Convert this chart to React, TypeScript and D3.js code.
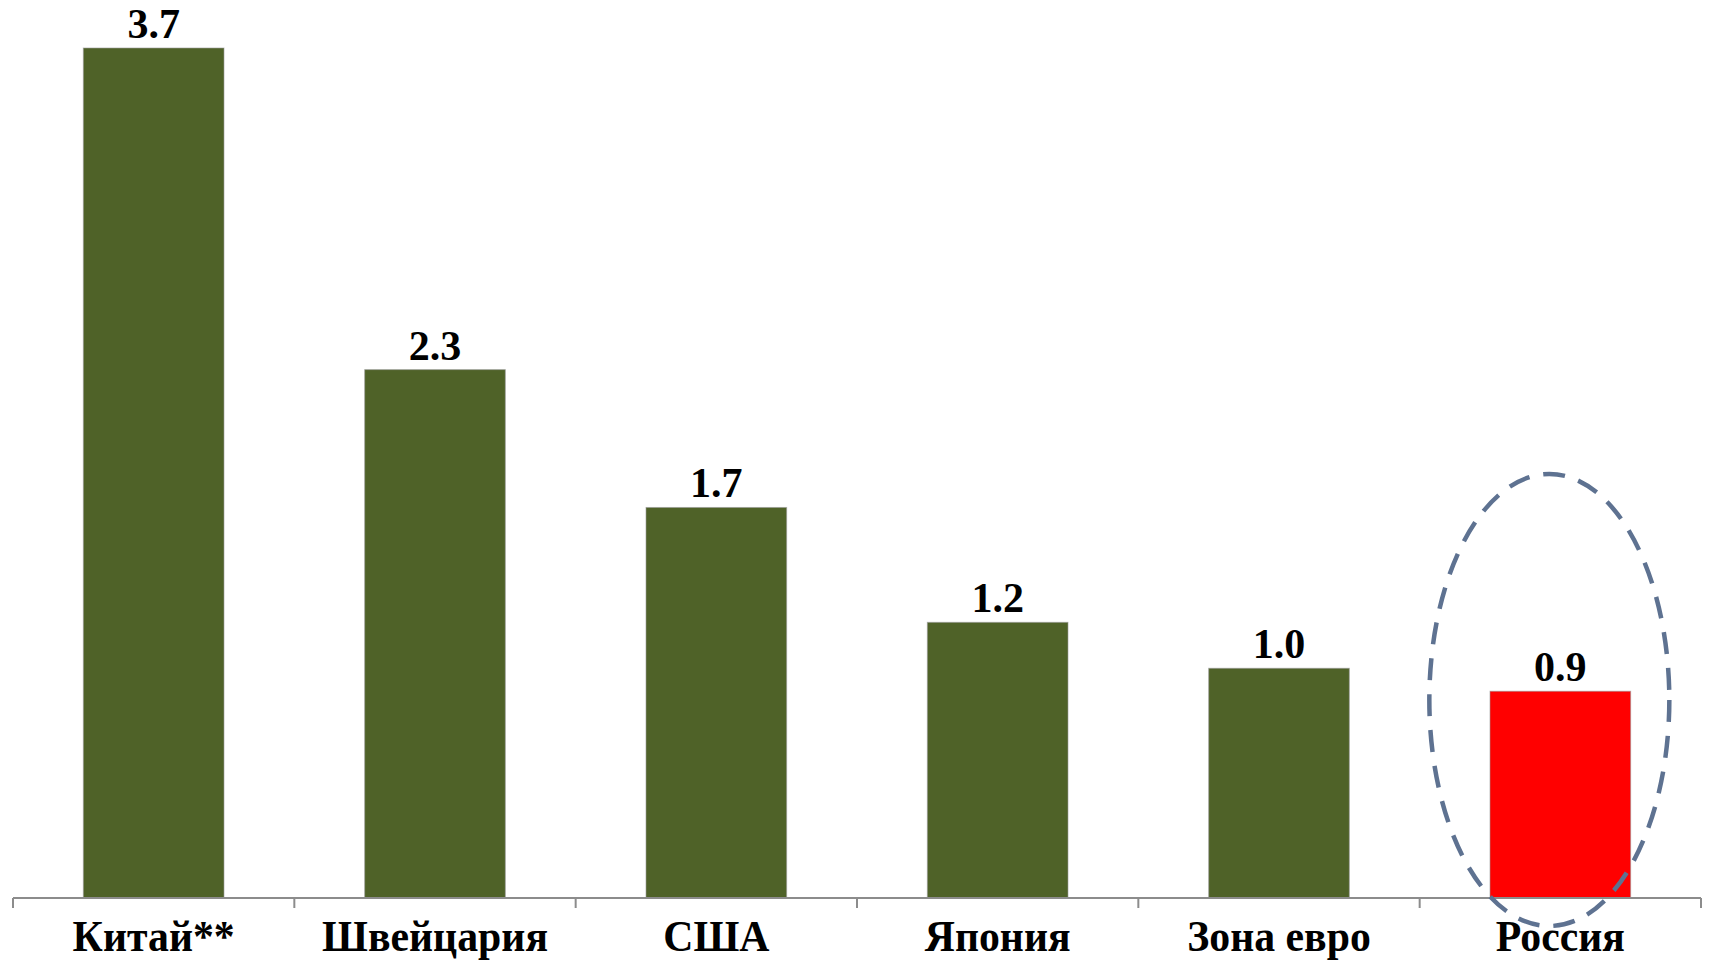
import React from "react";
import * as d3 from "d3";

const categories = ["Китай**", "Швейцария", "США", "Япония", "Зона евро", "Россия"];
const values = [3.7, 2.3, 1.7, 1.2, 1.0, 0.9];
const valueLabels = ["3.7", "2.3", "1.7", "1.2", "1.0", "0.9"];
const highlighted = "Россия";

const W = 1710;
const H = 961;
const axisY = 898;
const left = 13;
const right = 1701;

const OLIVE = "#4F6228";
const RED = "#FF0000";

export default function App() {
  const x = d3.scaleBand<string>().domain(categories).range([left, right]).paddingInner(0.5).paddingOuter(0.25);
  const y = d3.scaleLinear().domain([0, 3.7]).range([axisY, 48]);
  const step = x.step();
  const bw = x.bandwidth();
  const tickXs = d3.range(categories.length + 1).map((i) => left + i * step);

  // dashed ring drawn around the highlighted bar, sitting a little left of its centre
  const hx = (x(highlighted) ?? 0) + bw / 2 - 11;

  return (
    <div style={{ position: "fixed", left: 0, top: 0, width: W, height: H, background: "#fff" }}>
      <svg width={W} height={H} style={{ display: "block" }}>
        {categories.map((c, i) => (
          <rect
            key={c}
            x={x(c)}
            y={y(values[i])}
            width={bw}
            height={axisY - y(values[i])}
            fill={c === highlighted ? RED : OLIVE}
            stroke="#9a9a9a"
            strokeOpacity={0.6}
            strokeWidth={1}
          />
        ))}
        <line x1={left} x2={right} y1={axisY} y2={axisY} stroke="#8c8c8c" strokeWidth={2} />
        {tickXs.map((t, i) => (
          <line key={i} x1={t} x2={t} y1={axisY} y2={axisY + 10} stroke="#8c8c8c" strokeWidth={2} />
        ))}
        {categories.map((c, i) => (
          <text
            key={"v" + c}
            x={(x(c) ?? 0) + bw / 2}
            y={y(values[i]) - 10}
            textAnchor="middle"
            fontFamily="'Liberation Serif', 'Times New Roman', serif"
            fontWeight="bold"
            fontSize={42}
            fill="#000"
          >
            {valueLabels[i]}
          </text>
        ))}
        {categories.map((c) => {
          const cx = (x(c) ?? 0) + bw / 2;
          return (
            <text
              key={"c" + c}
              transform={`translate(${cx},951) scale(0.95,1)`}
              textAnchor="middle"
              fontFamily="'Liberation Serif', 'Times New Roman', serif"
              fontWeight="bold"
              fontSize={44}
              fill="#000"
            >
              {c}
            </text>
          );
        })}
        <ellipse
          cx={hx}
          cy={700}
          rx={120}
          ry={226}
          fill="none"
          stroke="#5E7291"
          strokeWidth={4.5}
          strokeDasharray="22 14"
        />
      </svg>
    </div>
  );
}
